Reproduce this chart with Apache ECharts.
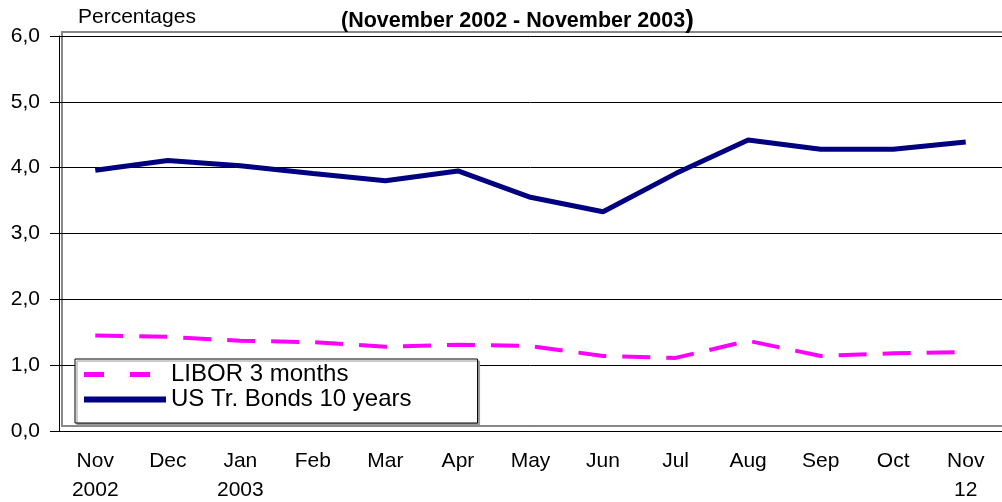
<!DOCTYPE html>
<html lang="en">
<head>
    <meta charset="UTF-8">
    <title>Interest rates</title>
    <script src="https://cdn.jsdelivr.net/npm/echarts@6/dist/echarts.min.js"></script>
    <style>
        html, body { margin: 0; padding: 0; background: #fff; }
        #main { width: 1002px; height: 502px; }
    </style>
</head>
<body>
    <div id="main"></div>
<script type="text/javascript">
    // months, with the year on a second line where the original shows it
    var months = ['Nov\n2002', 'Dec', 'Jan\n2003', 'Feb', 'Mar', 'Apr', 'May', 'Jun', 'Jul', 'Aug', 'Sep', 'Oct', 'Nov\n12']
    var libor3m = [1.45, 1.43, 1.37, 1.35, 1.28, 1.31, 1.29, 1.14, 1.11, 1.37, 1.14, 1.18, 1.20]
    var usBonds10y = [3.96, 4.11, 4.03, 3.91, 3.80, 3.95, 3.55, 3.33, 3.91, 4.42, 4.28, 4.28, 4.39]
    var yTicks = [0, 1, 2, 3, 4, 5, 6]

    var font = 'Arial, "Liberation Sans", sans-serif'
    var myChart = echarts.init(document.getElementById('main'), null, { renderer: 'canvas' })

    var option = {
        backgroundColor: '#fff',
        animation: false,
        textStyle: { fontFamily: font, color: '#000' },
        title: [
            {
                text: '{b|(November 2002 - November 2003}{p|)}',
                left: 341,
                top: 8,
                padding: 0,
                textStyle: {
                    rich: {
                        b: { fontFamily: font, fontWeight: 'bold', fontSize: 21.5, color: '#000' },
                        p: { fontFamily: font, fontSize: 26, color: '#000' }
                    }
                }
            },
            {
                text: 'Percentages',
                left: 78,
                top: 7,
                padding: 0,
                textStyle: { fontFamily: font, fontWeight: 'normal', fontSize: 21, color: '#000' }
            }
        ],
        grid: [
            { left: 59, right: 0, top: 36, bottom: 71, containLabel: false, outerBoundsMode: 'none' },
            // grey plot-area frame, slightly offset like the original
            { left: 62, right: -30, top: 32, bottom: 76, show: true, borderColor: '#888', borderWidth: 2, backgroundColor: 'transparent', outerBoundsMode: 'none' }
        ],
        legend: {
            orient: 'vertical',
            left: 75,
            top: 359,
            padding: [3, 66, 11, 6],
            itemGap: 0,
            itemWidth: 82,
            itemHeight: 14,
            backgroundColor: '#fff',
            borderColor: '#000',
            borderWidth: 1,
            shadowColor: '#999',
            shadowOffsetX: 2,
            shadowOffsetY: 2,
            itemStyle: { opacity: 0 },
            textStyle: { fontFamily: font, fontSize: 24, lineHeight: 25, color: '#000', padding: [0, 0, 0, 0] },
            data: [
                { name: 'LIBOR 3 months', itemStyle: { opacity: 0 }, lineStyle: { color: '#ff00ff', width: 5, type: [20, 26] } },
                { name: 'US Tr. Bonds 10 years', itemStyle: { opacity: 0 }, lineStyle: { color: '#000080', width: 6, type: 'solid' } }
            ]
        },
        xAxis: [
            {
                type: 'category',
                gridIndex: 0,
                data: months,
                boundaryGap: true,
                axisLine: { lineStyle: { color: '#000', width: 1 } },
                axisTick: { show: false },
                axisLabel: {
                    interval: 0,
                    margin: 16,
                    fontFamily: font,
                    fontSize: 21,
                    lineHeight: 29,
                    color: '#000'
                },
                splitLine: { show: false }
            },
            { type: 'category', gridIndex: 1, show: false, data: months }
        ],
        yAxis: [
            {
                type: 'value',
                gridIndex: 0,
                min: yTicks[0],
                max: yTicks[yTicks.length - 1],
                interval: 1,
                axisLine: { show: true, lineStyle: { color: '#000', width: 1 } },
                axisTick: { show: true, inside: false, length: 9, lineStyle: { color: '#000' } },
                axisLabel: {
                    margin: 19,
                    fontFamily: font,
                    fontSize: 21,
                    color: '#000',
                    formatter: function (v) { return v.toFixed(1).replace('.', ',') }
                },
                splitLine: { show: true, lineStyle: { color: '#000', width: 1 } }
            },
            { type: 'value', gridIndex: 1, show: false, min: 0, max: 6 }
        ],
        series: [
            {
                name: 'LIBOR 3 months',
                type: 'line',
                xAxisIndex: 0,
                yAxisIndex: 0,
                data: libor3m,
                symbol: 'none',
                z: 3,
                color: '#ff00ff',
                lineStyle: { color: '#ff00ff', width: 4, type: [28, 16] }
            },
            {
                name: 'US Tr. Bonds 10 years',
                type: 'line',
                xAxisIndex: 0,
                yAxisIndex: 0,
                data: usBonds10y,
                symbol: 'none',
                z: 3,
                color: '#000080',
                lineStyle: { color: '#000080', width: 5 }
            }
        ]
    }

    option && myChart.setOption(option)
</script>
</body>
</html>
